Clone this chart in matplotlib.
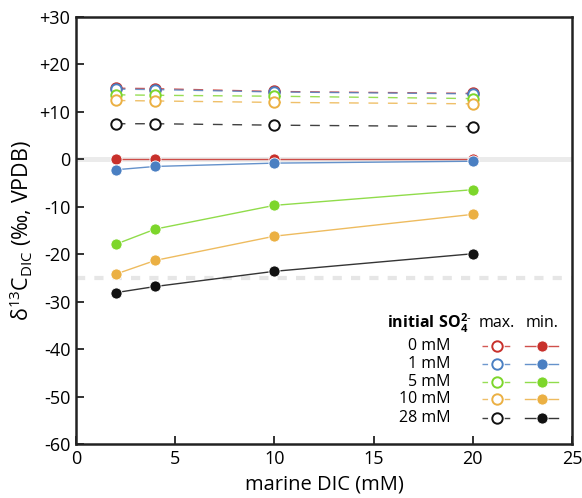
import matplotlib
matplotlib.use("Agg")
import matplotlib.pyplot as plt
from matplotlib.lines import Line2D

plt.rcParams['font.family'] = ['Open Sans', 'DejaVu Sans']
plt.rcParams['mathtext.fontset'] = 'custom'
plt.rcParams['mathtext.rm'] = 'Open Sans'
plt.rcParams['mathtext.bf'] = 'Open Sans:bold'

# marine DIC (mM)
dic = [2, 4, 10, 20]
so4_labels = ['0 mM', '1 mM', '5 mM', '10 mM', '28 mM']
colors = ['#c8302b', '#4a7fc2', '#7dd62b', '#ebb043', '#111111']

# delta13C of DIC, maximum case
d13c_max = [
    [15.0, 14.9, 14.3, 13.9],
    [14.8, 14.7, 14.2, 13.8],
    [13.6, 13.5, 13.3, 12.8],
    [12.4, 12.3, 12.0, 11.7],
    [7.5, 7.5, 7.2, 6.9],
]
# delta13C of DIC, minimum case
d13c_min = [
    [0.0, 0.0, 0.0, 0.0],
    [-2.2, -1.5, -0.8, -0.4],
    [-17.9, -14.7, -9.7, -6.4],
    [-24.2, -21.3, -16.2, -11.6],
    [-28.1, -26.8, -23.6, -19.9],
]

fig = plt.figure(figsize=(5.82, 4.98), dpi=100)
ax = fig.add_axes([0.1306, 0.1084, 0.8522, 0.8575])

# reference lines
ax.axhline(0, color='#ebebeb', lw=3.6, zorder=1)
ax.axhline(-25, color='#e6e6e6', lw=3.0, dashes=(2.2, 2.2), zorder=1)

for i in range(len(so4_labels)):
    ax.plot(dic, d13c_max[i], color=colors[i], lw=1.0, alpha=0.8, dashes=(7, 7), zorder=2)
    ax.plot(dic, d13c_max[i], 'o', ls='none', mfc='white', mec=colors[i], mew=1.4, ms=7.5, zorder=3)
for i in range(len(so4_labels)):
    ax.plot(dic, d13c_min[i], color=colors[i], lw=1.0, alpha=0.85, zorder=2)
    ax.plot(dic, d13c_min[i], 'o', ls='none', mfc=colors[i], mec='white', mew=0.6, ms=8, zorder=3)

ax.set_xlim(0, 25)
ax.set_ylim(-60, 30)
ax.set_xticks([0, 5, 10, 15, 20, 25])
yt = list(range(-60, 31, 10))
ax.set_yticks(yt)
ax.set_yticklabels(['+%d' % v if v > 0 else '%d' % v for v in yt])
ax.tick_params(direction='in', length=6, width=1.3, labelsize=13, pad=4, color='#222222')
for s in ax.spines.values():
    s.set_linewidth(1.8)
    s.set_color('#222222')

ax.set_xlabel('marine DIC (mM)', fontsize=14.5, labelpad=5)
ax.set_ylabel('δ$^{13}$C$_{\\rm DIC}$ (‰, VPDB)', fontsize=15.5, labelpad=3)

# custom legend
tr = ax.transAxes
ax.text(0.627, 0.283, r'$\mathbf{initial\ SO_4^{2\text{-}}}$', transform=tr, fontsize=11.5,
        ha='left', va='center')
ax.text(0.849, 0.283, 'max.', transform=tr, fontsize=11.5, ha='center', va='center')
ax.text(0.940, 0.283, 'min.', transform=tr, fontsize=11.5, ha='center', va='center')
row_y = [0.230, 0.187, 0.145, 0.105, 0.062]
for i in range(len(so4_labels)):
    yy = row_y[i]
    ax.text(0.756, yy, so4_labels[i], transform=tr, fontsize=11.5, ha='right', va='center')
    ax.add_line(Line2D([0.819, 0.885], [yy, yy], transform=tr, color=colors[i], lw=1.0,
                       alpha=0.8, dashes=(4, 4), dash_capstyle='butt', clip_on=False))
    ax.add_line(Line2D([0.849], [yy], transform=tr, marker='o', ls='none', mfc='white',
                       mec=colors[i], mew=1.4, ms=7.5, clip_on=False))
    ax.add_line(Line2D([0.905, 0.972], [yy, yy], transform=tr, color=colors[i], lw=1.0,
                       alpha=0.85, clip_on=False))
    ax.add_line(Line2D([0.940], [yy], transform=tr, marker='o', ls='none', mfc=colors[i],
                       mec='white', mew=0.6, ms=8, clip_on=False))

fig.savefig('out.png', dpi=100)
